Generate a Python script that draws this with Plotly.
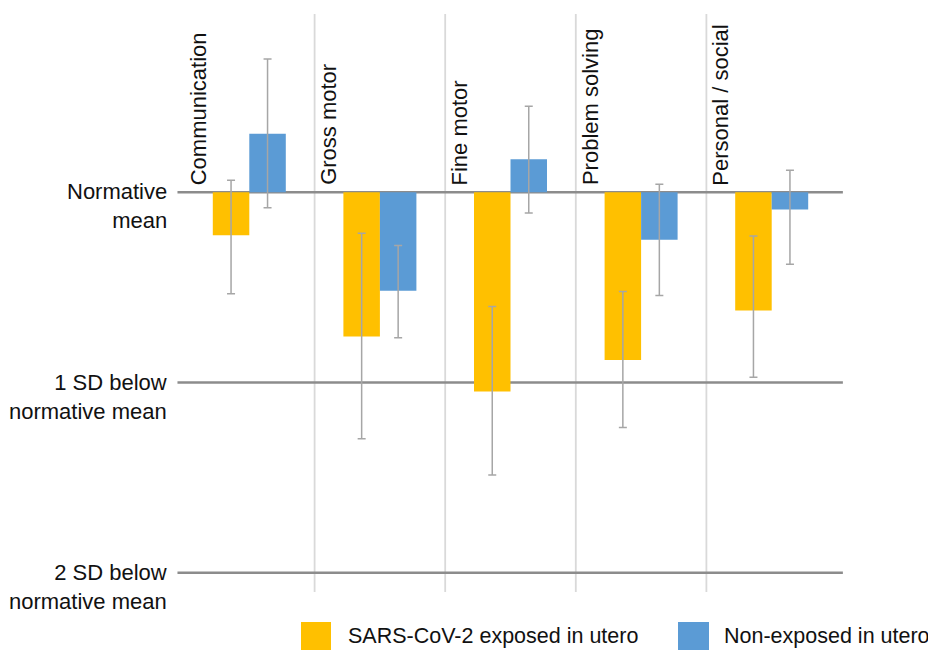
import plotly.graph_objects as go

# ---- data ----
categories = ["Communication", "Gross motor", "Fine motor", "Problem solving", "Personal / social"]
exposed = [-0.226, -0.758, -1.047, -0.882, -0.622]
exposed_err_plus = [0.289, 0.543, 0.446, 0.360, 0.392]
exposed_err_minus = [0.307, 0.538, 0.439, 0.354, 0.350]
nonexposed = [0.308, -0.517, 0.173, -0.249, -0.091]
nonexposed_err_plus = [0.392, 0.237, 0.279, 0.291, 0.207]
nonexposed_err_minus = [0.389, 0.247, 0.282, 0.294, 0.287]
sd_levels = [0, -1, -2]
sd_labels = ["Normative<br>mean", "1 SD below<br>normative mean", "2 SD below<br>normative mean"]
series_names = ["SARS-CoV-2 exposed in utero", "Non-exposed in utero"]
colors = ["#FFC000", "#5B9BD5"]

# page has an 8px body margin; figure sized to fit the 936x650 window
OFF = 8
W, H = 928, 642
ML, MR, MT, MB = 176, 99, 6, 58
PW, PH = W - ML - MR, H - MT - MB


def px_x(p):
    return (p - OFF - ML) / PW


def px_y(p):
    return (H - MB - (p - OFF)) / PH


FONT = "Liberation Sans, Arial, sans-serif"
TXT = "#111111"
FS = 22
LFS = 21.5
err_style = dict(type="data", symmetric=False, color="#a6a6a6", thickness=1.5, width=4)
x_idx = list(range(len(categories)))

fig = go.Figure()
fig.add_trace(go.Bar(
    x=x_idx, y=exposed, name=series_names[0], marker=dict(color=colors[0], line=dict(width=0)),
    error_y=dict(array=exposed_err_plus, arrayminus=exposed_err_minus, **err_style),
))
fig.add_trace(go.Bar(
    x=x_idx, y=nonexposed, name=series_names[1], marker=dict(color=colors[1], line=dict(width=0)),
    error_y=dict(array=nonexposed_err_plus, arrayminus=nonexposed_err_minus, **err_style),
))

shapes = []
# vertical separators between categories
for i in range(len(categories) - 1):
    shapes.append(dict(type="line", xref="x", yref="y domain", x0=i + 0.5, x1=i + 0.5, y0=0, y1=1,
                       line=dict(color="#d9d9d9", width=1.8), layer="below"))
# reference lines
for lv in sd_levels:
    shapes.append(dict(type="line", xref="x domain", yref="y", x0=-0.01, x1=1.009, y0=lv, y1=lv,
                       line=dict(color="#8c8c8c", width=2.6), layer="below"))
# legend boxes
legend_boxes = [(301, 331), (678, 709)]
for (a, b), c in zip(legend_boxes, colors):
    shapes.append(dict(type="rect", xref="paper", yref="paper", x0=px_x(a), x1=px_x(b),
                       y0=px_y(622), y1=px_y(652), fillcolor=c, line=dict(width=0)))

annotations = []
for lv, lab in zip(sd_levels, sd_labels):
    annotations.append(dict(xref="paper", yref="y", x=px_x(169), y=lv, text=lab, showarrow=False,
                            xanchor="right", yanchor="top", align="right", yshift=15,
                            font=dict(family=FONT, size=FS, color=TXT)))
for i, cat in enumerate(categories):
    annotations.append(dict(xref="x", yref="y", x=i - 0.5, y=0, text=cat, showarrow=False,
                            textangle=-90, xanchor="left", yanchor="bottom", xshift=0, yshift=5,
                            font=dict(family=FONT, size=FS, color=TXT)))
legend_text_x = [346, 722]
for tx, nm in zip(legend_text_x, series_names):
    annotations.append(dict(xref="paper", yref="paper", x=px_x(tx), y=px_y(636), text=nm,
                            showarrow=False, xanchor="left", yanchor="middle",
                            font=dict(family=FONT, size=LFS, color=TXT)))

fig.update_layout(
    width=W, height=H, autosize=False,
    margin=dict(l=ML, r=MR, t=MT, b=MB, pad=0),
    paper_bgcolor="white", plot_bgcolor="white",
    barmode="group", bargap=0.441, bargroupgap=0,
    showlegend=False,
    xaxis=dict(range=[-0.5, len(categories) - 0.5], showticklabels=False, showgrid=False,
               zeroline=False, showline=False, ticks="", fixedrange=True),
    yaxis=dict(range=[-2.101, 0.937], showticklabels=False, showgrid=False,
               zeroline=False, showline=False, ticks="", fixedrange=True),
    shapes=shapes, annotations=annotations,
    font=dict(family=FONT, size=FS, color=TXT),
)

fig.write_html("out.html", config={"displayModeBar": False})
